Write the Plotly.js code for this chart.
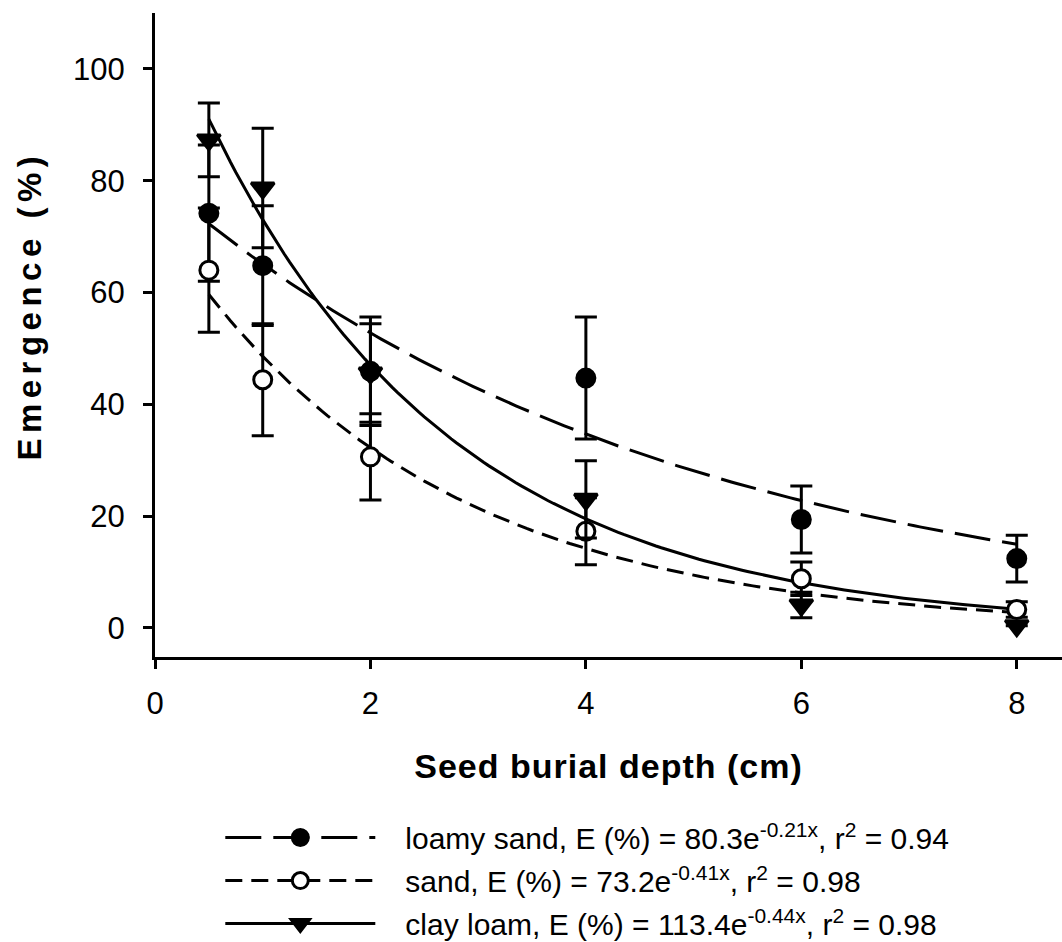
<!DOCTYPE html>
<html>
<head>
<meta charset="utf-8">
<script src="https://cdn.plot.ly/plotly-3.0.1.min.js"></script>
<style>
html,body{margin:0;padding:0;background:#fff;}
#chart{width:1062px;height:942px;}
#chart .ytitle{letter-spacing:5.5px;}
#chart .xtitle{letter-spacing:1px;}
</style>
</head>
<body>
<div id="chart"></div>
<script>
// Seed burial depth (cm)
const depth = [0.5, 1, 2, 4, 6, 8];

// Mean emergence (%) and error bars
const loamySand = [74.2, 64.8, 45.9, 44.7, 19.4, 12.4];
const loamySandErr = [12.2, 10.7, 9.7, 10.9, 6.0, 4.2];
const sand = [64.0, 44.4, 30.6, 17.3, 8.8, 3.3];
const sandErr = [11.1, 10.0, 7.7, 6.0, 3.0, 1.4];
const clayLoam = [87.3, 78.7, 45.6, 23.0, 4.1, 0.4];
const clayLoamErr = [6.6, 10.7, 8.8, 6.9, 2.3, 0.0];

// Fitted model E = a * exp(b * x), coefficients from the legend
const seriesNames = ['loamy sand', 'sand', 'clay loam'];
const fitA = [80.3, 73.2, 113.4];
const fitB = [-0.21, -0.41, -0.44];
const fitR2 = ['0.94', '0.98', '0.98'];

const means = [loamySand, sand, clayLoam];
const errs = [loamySandErr, sandErr, clayLoamErr];

const styles = [
  {dash: '36px,12px', symbol: 'circle', fill: '#000000'},
  {dash: '17px,9px', symbol: 'circle', fill: '#ffffff'},
  {dash: 'solid', symbol: 'triangle-down', fill: '#000000'}
];

const traces = [];
// fitted curves
for (let s = 0; s < 3; s++) {
  const fx = [], fy = [];
  for (let i = 0; i <= 150; i++) {
    const x = depth[0] + (depth[depth.length - 1] - depth[0]) * i / 150;
    fx.push(x);
    fy.push(fitA[s] * Math.exp(fitB[s] * x));
  }
  traces.push({
    x: fx, y: fy, type: 'scatter', mode: 'lines',
    line: {color: '#000', width: 3, dash: styles[s].dash},
    showlegend: false, hoverinfo: 'skip'
  });
}
// data points with error bars
for (let s = 0; s < 3; s++) {
  traces.push({
    x: depth, y: means[s], type: 'scatter', mode: 'markers',
    marker: {symbol: styles[s].symbol, size: s === 2 ? 20 : 18, color: styles[s].fill,
             line: {color: '#000', width: 3}},
    error_y: {type: 'data', array: errs[s], visible: true, color: '#000', thickness: 3, width: 11},
    showlegend: false
  });
}
// legend entries
const pad = '\u00a0\u00a0\u00a0';
for (let s = 0; s < 3; s++) {
  const a = fitA[s].toFixed(1);
  const b = fitB[s].toFixed(2);
  traces.push({
    x: [null], y: [null], type: 'scatter', mode: 'lines+markers',
    name: pad + seriesNames[s] + ', E (%) = ' + a + 'e<sup>' + b + 'x</sup>, r<sup>2</sup> = ' + fitR2[s],
    line: {color: '#000', width: 3, dash: styles[s].dash},
    marker: {symbol: styles[s].symbol, size: s === 2 ? 20 : 18, color: styles[s].fill,
             line: {color: '#000', width: 3}},
    legendgroup: 'g' + s,
    showlegend: true
  });
}

const layout = {
  width: 1062, height: 942,
  paper_bgcolor: '#fff', plot_bgcolor: '#fff',
  margin: {l: 155, r: 0, t: 13, b: 285, autoexpand: false},
  font: {family: 'Liberation Sans, Arial, sans-serif', color: '#000', size: 30},
  showlegend: true,
  legend: {
    x: 0.072, xanchor: 'left', y: -0.24, yanchor: 'top',
    traceorder: 'grouped', tracegroupgap: 1,
    itemwidth: 150, font: {size: 30},
    bgcolor: 'rgba(0,0,0,0)'
  },
  xaxis: {
    range: [0, 8.42], tickvals: [0, 2, 4, 6, 8], ticktext: ['0', '2', '4', '6', '8'],
    showgrid: false, zeroline: false, showline: true, linecolor: '#000', linewidth: 3,
    ticks: 'outside', ticklen: 9, tickwidth: 3, tickcolor: '#000',
    tickfont: {size: 31}, ticklabelstandoff: 8,
    title: {text: '<b>Seed burial depth (cm)</b>', font: {size: 34}, standoff: 34}
  },
  yaxis: {
    range: [-5.2, 110], tickvals: [0, 20, 40, 60, 80, 100],
    showgrid: false, zeroline: false, showline: true, linecolor: '#000', linewidth: 3,
    ticks: 'outside', ticklen: 9, tickwidth: 3, tickcolor: '#000',
    tickfont: {size: 31}, ticklabelstandoff: 12,
    title: {text: '<b>\u00a0\u00a0\u00a0\u00a0Emergence (%)</b>', font: {size: 33}, standoff: 22}
  }
};

Plotly.newPlot('chart', traces, layout, {displayModeBar: false, staticPlot: true});
</script>
</body>
</html>
